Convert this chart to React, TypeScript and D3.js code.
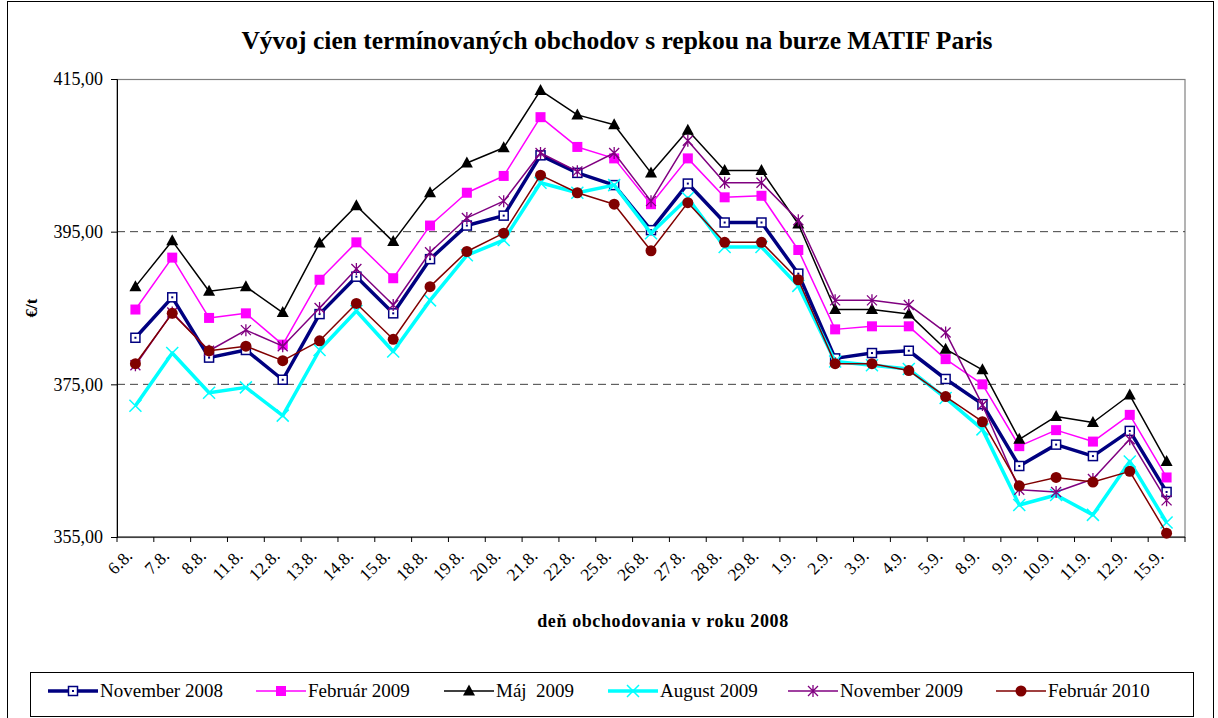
import React, { useRef, useEffect } from "react";
import * as d3 from "d3";

const WIDTH = 1218;
const HEIGHT = 718;
const PLOT = { left: 117, right: 1185, top: 79, bottom: 537 };

const categories = [
  "6.8.", "7.8.", "8.8.", "11.8.", "12.8.", "13.8.", "14.8.", "15.8.", "18.8.", "19.8.",
  "20.8.", "21.8.", "22.8.", "25.8.", "26.8.", "27.8.", "28.8.", "29.8.", "1.9.", "2.9.",
  "3.9.", "4.9.", "5.9.", "8.9.", "9.9.", "10.9.", "11.9.", "12.9.", "15.9.",
];

const nov2008 = [381.1, 386.4, 378.5, 379.5, 375.6, 384.2, 389.1, 384.3, 391.4, 395.8, 397.1, 405.0, 402.7, 401.1, 395.2, 401.3, 396.2, 396.2, 389.5, 378.4, 379.1, 379.4, 375.7, 372.4, 364.3, 367.1, 365.6, 368.9, 360.9];
const feb2009 = [384.8, 391.6, 383.7, 384.3, 380.2, 388.7, 393.6, 388.9, 395.8, 400.1, 402.3, 410.0, 406.1, 404.6, 398.6, 404.6, 399.5, 399.7, 392.6, 382.2, 382.6, 382.6, 378.3, 375.0, 366.9, 369.0, 367.5, 371.0, 362.8];
const maj2009 = [387.8, 393.8, 387.2, 387.8, 384.4, 393.5, 398.4, 393.7, 400.1, 404.0, 406.0, 413.5, 410.3, 409.0, 402.7, 408.3, 403.0, 403.0, 396.0, 384.8, 384.8, 384.2, 379.6, 376.9, 367.8, 370.8, 370.0, 373.6, 364.9];
const aug2009 = [372.2, 379.1, 373.9, 374.6, 370.9, 379.5, 384.6, 379.3, 386.0, 391.9, 393.9, 401.4, 400.1, 401.1, 394.8, 399.4, 393.0, 393.0, 387.9, 378.0, 377.5, 377.0, 373.2, 369.1, 359.2, 360.5, 357.9, 364.9, 356.9];
const nov2009 = [377.5, 384.4, 379.4, 382.1, 380.0, 385.0, 390.1, 385.4, 392.3, 396.8, 399.0, 405.3, 402.9, 405.3, 399.0, 406.9, 401.4, 401.4, 396.5, 386.0, 386.0, 385.4, 381.8, 372.3, 361.2, 360.9, 362.6, 367.8, 359.8];
const feb2010 = [377.7, 384.3, 379.4, 380.0, 378.1, 380.7, 385.6, 380.9, 387.8, 392.4, 394.8, 402.4, 400.1, 398.6, 392.5, 398.8, 393.6, 393.6, 388.7, 377.7, 377.7, 376.8, 373.4, 370.1, 361.7, 362.8, 362.2, 363.6, 355.5];

const yTicks = [355, 375, 395, 415];

type Marker = "openSquare" | "square" | "triangle" | "x" | "star" | "circle";
type Series = { name: string; values: number[]; color: string; width: number; marker: Marker };

const series: Series[] = [
  { name: "November 2008", values: nov2008, color: "#000080", width: 3.5, marker: "openSquare" },
  { name: "Február 2009", values: feb2009, color: "#ff00ff", width: 1.5, marker: "square" },
  { name: "Máj  2009", values: maj2009, color: "#000000", width: 1.5, marker: "triangle" },
  { name: "August 2009", values: aug2009, color: "#00ffff", width: 3.5, marker: "x" },
  { name: "November 2009", values: nov2009, color: "#800080", width: 1.5, marker: "star" },
  { name: "Február 2010", values: feb2010, color: "#800000", width: 1.5, marker: "circle" },
];

// legend text start positions
const legendTextX = [100, 308, 496, 660, 840, 1048];

const FONT = "'Liberation Serif', 'Times New Roman', serif";

function drawMarker(g: d3.Selection<SVGGElement, unknown, null, undefined>, m: Marker, color: string, cx: number, cy: number) {
  if (m === "openSquare") {
    g.append("rect").attr("x", cx - 4.5).attr("y", cy - 4.5).attr("width", 9).attr("height", 9)
      .attr("fill", "#fff").attr("stroke", color).attr("stroke-width", 1.5);
    g.append("rect").attr("x", cx - 1).attr("y", cy - 1).attr("width", 2).attr("height", 2).attr("fill", color);
  } else if (m === "square") {
    g.append("rect").attr("x", cx - 5).attr("y", cy - 5).attr("width", 10).attr("height", 10).attr("fill", color);
  } else if (m === "triangle") {
    g.append("path").attr("d", `M${cx},${cy - 6.5}L${cx + 6},${cy + 4.5}L${cx - 6},${cy + 4.5}Z`).attr("fill", color);
  } else if (m === "x") {
    g.append("path").attr("d", `M${cx - 6},${cy - 6}L${cx + 6},${cy + 6}M${cx - 6},${cy + 6}L${cx + 6},${cy - 6}`)
      .attr("stroke", color).attr("stroke-width", 1.5);
  } else if (m === "star") {
    g.append("path").attr("d", `M${cx - 5},${cy - 5}L${cx + 5},${cy + 5}M${cx - 5},${cy + 5}L${cx + 5},${cy - 5}M${cx},${cy - 6}L${cx},${cy + 6}`)
      .attr("stroke", color).attr("stroke-width", 1.3);
  } else {
    g.append("circle").attr("cx", cx).attr("cy", cy).attr("r", 5.5).attr("fill", color);
  }
}

export default function App() {
  const svgRef = useRef<SVGSVGElement | null>(null);

  useEffect(() => {
    const svg = d3.select(svgRef.current);
    svg.selectAll("*").remove();

    const x = d3.scaleBand<string>().domain(categories).range([PLOT.left, PLOT.right]);
    const y = d3.scaleLinear().domain([355, 415]).range([PLOT.bottom, PLOT.top]);
    const cx = (c: string) => (x(c) as number) + x.bandwidth() / 2;

    // outer frame
    svg.append("rect").attr("x", 7.5).attr("y", 1.5).attr("width", 1206).attr("height", 730)
      .attr("fill", "#fff").attr("stroke", "#000").attr("stroke-width", 1);

    // title
    svg.append("text").attr("x", 617).attr("y", 49).attr("text-anchor", "middle")
      .attr("font-family", FONT).attr("font-size", 25.5).attr("font-weight", "bold")
      .text("Vývoj cien termínovaných obchodov s repkou na burze MATIF Paris");

    // plot area border
    svg.append("rect").attr("x", PLOT.left).attr("y", PLOT.top + 0.5)
      .attr("width", PLOT.right - PLOT.left).attr("height", PLOT.bottom - PLOT.top)
      .attr("fill", "none").attr("stroke", "#808080").attr("stroke-width", 1.2);

    // gridlines
    svg.append("g").selectAll("line").data(yTicks.slice(1, 3)).enter().append("line")
      .attr("x1", PLOT.left).attr("x2", PLOT.right)
      .attr("y1", (d) => y(d)).attr("y2", (d) => y(d))
      .attr("stroke", "#404040").attr("stroke-width", 1).attr("stroke-dasharray", "8,5");

    // y axis
    const yAxis = svg.append("g").attr("transform", `translate(${PLOT.left},0)`)
      .call(d3.axisLeft(y).tickValues(yTicks).tickSize(6).tickPadding(8)
        .tickFormat((d) => d3.format(".2f")(d as number).replace(".", ",")));
    yAxis.select(".domain").attr("stroke", "#000");
    yAxis.selectAll("text").attr("font-family", FONT).attr("font-size", 18).attr("fill", "#000");

    // x axis
    const xAxis = svg.append("g").attr("transform", `translate(0,${PLOT.bottom})`);
    xAxis.append("line").attr("x1", PLOT.left).attr("x2", PLOT.right).attr("stroke", "#000");
    xAxis.selectAll("line.tick").data(d3.range(categories.length + 1)).enter().append("line")
      .attr("class", "tick")
      .attr("x1", (i) => PLOT.left + i * x.bandwidth()).attr("x2", (i) => PLOT.left + i * x.bandwidth())
      .attr("y1", 0).attr("y2", 5).attr("stroke", "#000");
    xAxis.selectAll("text").data(categories).enter().append("text")
      .attr("transform", (c) => `translate(${cx(c) - 2},${20}) rotate(-45)`)
      .attr("text-anchor", "end").attr("font-family", FONT).attr("font-size", 17.5)
      .text((c) => c);

    // axis titles
    svg.append("text").attr("x", 663).attr("y", 627).attr("text-anchor", "middle")
      .attr("font-family", FONT).attr("font-size", 18).attr("font-weight", "bold")
      .attr("letter-spacing", 0.6)
      .text("deň obchodovania v roku 2008");
    svg.append("text").attr("transform", `translate(37,${(PLOT.top + PLOT.bottom) / 2}) rotate(-90)`)
      .attr("text-anchor", "middle").attr("font-family", FONT).attr("font-size", 17).attr("font-weight", "bold")
      .text("€/t");

    // series
    const line = d3.line<number>().x((_, i) => cx(categories[i])).y((d) => y(d));
    series.forEach((s) => {
      const g = svg.append("g");
      g.append("path").datum(s.values).attr("fill", "none").attr("stroke", s.color)
        .attr("stroke-width", s.width).attr("stroke-linejoin", "round").attr("d", line);
      s.values.forEach((v, i) => drawMarker(g, s.marker, s.color, cx(categories[i]), y(v)));
    });

    // legend
    svg.append("rect").attr("x", 30.5).attr("y", 672.5).attr("width", 1163).attr("height", 44)
      .attr("fill", "#fff").attr("stroke", "#000").attr("stroke-width", 1);
    series.forEach((s, i) => {
      const g = svg.append("g");
      const tx = legendTextX[i];
      const ly = 691;
      g.append("line").attr("x1", tx - 52).attr("x2", tx - 2).attr("y1", ly).attr("y2", ly)
        .attr("stroke", s.color).attr("stroke-width", s.width);
      drawMarker(g, s.marker, s.color, tx - 27, ly);
      g.append("text").attr("x", tx).attr("y", ly + 6).attr("font-family", FONT).attr("font-size", 19)
        .style("white-space", "pre").text(s.name);
    });
  }, []);

  return (
    <svg
      ref={svgRef}
      width={WIDTH}
      height={HEIGHT}
      style={{ position: "absolute", left: 0, top: 0, background: "#fff" }}
    />
  );
}
